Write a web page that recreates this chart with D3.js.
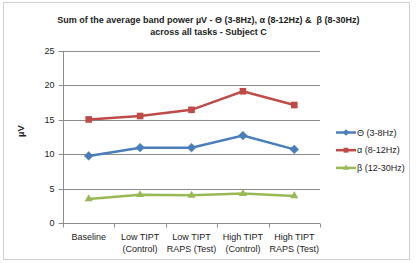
<!DOCTYPE html>
<html><head><meta charset="utf-8">
<script src="https://cdn.jsdelivr.net/npm/d3@7"></script>
<style>body{margin:0;background:#fff}svg{display:block;font-family:"Liberation Sans",Arial,sans-serif}</style>
</head><body><svg id="c" width="418" height="263"></svg>
<script>
const categories = [["Baseline"],["Low TIPT","(Control)"],["Low TIPT","RAPS (Test)"],["High TIPT","(Control)"],["High TIPT","RAPS (Test)"]];
const theta = [9.75, 10.95, 10.95, 12.7, 10.7];
const alpha = [15.05, 15.55, 16.45, 19.15, 17.15];
const beta = [3.5, 4.1, 4.02, 4.27, 3.93];
const seriesNames = ["Θ (3-8Hz)", "α (8-12Hz)", "β (12-30Hz)"];
const yTicks = [0,5,10,15,20,25];
const titleLines = ["Sum of the average band power µV - Θ (3-8Hz), α (8-12Hz) &  β (8-30Hz)", "across all tasks - Subject C"];

(function(){
const colors = ["#4a7ebb","#be4b48","#98b954"];
const symbols = [d3.symbolDiamond2, d3.symbolSquare2, d3.symbolTriangle2];
const svg = d3.select("#c");
svg.append("rect").attr("x",3.5).attr("y",2.5).attr("width",406).attr("height",257).attr("fill","#fff").attr("stroke","#d0d0d0");

const pL=63, pR=320, pT=51, pB=223;
const x = d3.scaleBand().domain(d3.range(categories.length)).range([pL,pR]);
const y = d3.scaleLinear().domain([0,25]).range([pB,pT]);

// gridlines
svg.append("g").selectAll("line").data(yTicks.filter(t=>t>0)).join("line")
  .attr("x1",pL).attr("x2",pR).attr("y1",d=>Math.round(y(d))+0.5).attr("y2",d=>Math.round(y(d))+0.5)
  .attr("stroke","#8c8c8c").attr("stroke-width",1);

// y axis
const ya = svg.append("g").attr("transform",`translate(${pL+0.5},0)`)
  .call(d3.axisLeft(y).tickValues(yTicks).tickSize(5).tickPadding(4));
ya.selectAll("path,line").attr("stroke","#8c8c8c");
ya.selectAll("text").attr("font-size",9).attr("fill","#222").style("font-family","Liberation Sans, Arial");
ya.selectAll(".tick").attr("transform",d=>`translate(0,${Math.round(y(d))+0.5})`);
ya.select(".domain").attr("d",`M0,${pT}V${pB+0.5}`);

// x axis
const xg = svg.append("g").attr("transform",`translate(0,${pB+0.5})`);
xg.append("line").attr("x1",pL).attr("x2",pR).attr("stroke","#8c8c8c");
const bounds = d3.range(categories.length+1).map(i=> i<categories.length ? x(i) : pR);
xg.selectAll("line.t").data(bounds).join("line").attr("class","t")
  .attr("x1",d=>Math.round(d)+0.5).attr("x2",d=>Math.round(d)+0.5).attr("y1",0).attr("y2",4).attr("stroke","#8c8c8c");
const lab = xg.selectAll("text").data(categories).join("text")
  .attr("text-anchor","middle").attr("font-size",9).attr("fill","#222")
  .attr("transform",(d,i)=>`translate(${x(i)+x.bandwidth()/2},0)`);
lab.selectAll("tspan").data(d=>d).join("tspan").attr("x",0).attr("y",(d,j)=>16+j*12).text(d=>d);

// series
const all = [theta, alpha, beta];
const line = d3.line().x((d,i)=>x(i)+x.bandwidth()/2).y(d=>y(d));
all.forEach((s,k)=>{
  svg.append("path").datum(s).attr("d",line).attr("fill","none").attr("stroke",colors[k]).attr("stroke-width",2.5);
  svg.append("g").selectAll("path").data(s).join("path")
    .attr("d",d3.symbol().type(symbols[k]).size(k==1?56:(k==0?50:46)))
    .attr("transform",(d,i)=>`translate(${x(i)+x.bandwidth()/2},${y(d)})`)
    .attr("fill",colors[k]).attr("stroke",colors[k]).attr("stroke-width",k==0?0.5:0);
});

// legend
const lg = svg.append("g");
seriesNames.forEach((n,k)=>{
  const yy = 132.5 + k*17.7;
  lg.append("line").attr("x1",336).attr("x2",356).attr("y1",yy).attr("y2",yy).attr("stroke",colors[k]).attr("stroke-width",2.5);
  lg.append("path").attr("d",d3.symbol().type(symbols[k]).size(k==1?30:(k==0?28:26))).attr("transform",`translate(346,${yy})`).attr("fill",colors[k]);
  lg.append("text").attr("x",357).attr("y",yy+3.2).attr("font-size",9).attr("fill","#222").text(n);
});

// y label
svg.append("text").attr("transform","translate(24,131) rotate(-90)").attr("text-anchor","middle")
  .attr("font-size",9.5).attr("font-weight","bold").attr("fill","#222").text("µV");

// title
svg.append("g").selectAll("text").data(titleLines).join("text")
  .attr("x",208.5).attr("y",(d,i)=>23+i*11.5).attr("text-anchor","middle").style("white-space","pre")
  .attr("font-size",9).attr("font-weight","bold").attr("fill","#222").text(d=>d);
})();
</script></body></html>
